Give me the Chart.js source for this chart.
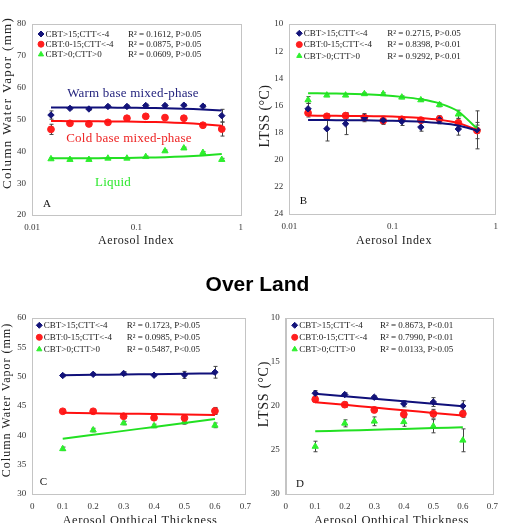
<!DOCTYPE html>
<html>
<head>
<meta charset="utf-8">
<script src="https://cdn.jsdelivr.net/npm/chart.js@4.4.0/dist/chart.umd.min.js"></script>
<style>
  html, body { margin: 0; padding: 0; background: #fff; }
  body { width: 505px; height: 523px; position: relative; overflow: hidden; }
  canvas { position: absolute; }
  #overLand {
    position: absolute; left: 0; width: 515px; top: 272px;
    text-align: center; line-height: 24px;
    font: bold 21px "Liberation Sans", Arial, sans-serif; color: #000;
  }
</style>
</head>
<body>
<canvas id="chartA" width="250" height="260" style="left:0;top:0"></canvas>
<canvas id="chartB" width="255" height="260" style="left:250px;top:0"></canvas>
<canvas id="chartC" width="258" height="280" style="left:0;top:260px"></canvas>
<canvas id="chartD" width="255" height="280" style="left:250px;top:260px"></canvas>
<div id="overLand">Over Land</div>
<script>
'use strict';

// ---- data ----
const seriesNames = ['CBT>15;CTT<-4', 'CBT:0-15;CTT<-4', 'CBT>0;CTT>0'];

// aerosol index bins (panels A, B)
const aiX = [0.0152, 0.0231, 0.0351, 0.0534, 0.0812, 0.123, 0.188, 0.285, 0.434, 0.658];

const cwvWarm = [51.4, 53.5, 53.3, 54.1, 54.1, 54.4, 54.4, 54.5, 54.2, 51.2];
const cwvWarmErr = [1.3, 0.4, 0.4, 0.4, 0.4, 0.4, 0.4, 0.4, 0.5, 2.0];
const cwvWarmFit = [53.8, 53.78, 53.77, 53.74, 53.69, 53.63, 53.53, 53.38, 53.15, 52.8];
const cwvCold = [46.9, 48.8, 48.6, 49.1, 50.4, 51.0, 50.6, 50.4, 48.2, 47.0];
const cwvColdErr = [1.6, 0.5, 0.5, 0.5, 0.5, 0.5, 0.5, 0.5, 0.6, 2.2];
const cwvColdFit = [49.5, 49.48, 49.45, 49.41, 49.35, 49.25, 49.1, 48.87, 48.52, 48.0];
const cwvLiq = [37.6, 37.4, 37.4, 37.8, 37.8, 38.3, 40.1, 41.0, 39.6, 37.4];
const cwvLiqErr = [0.3, 0.2, 0.2, 0.2, 0.2, 0.2, 0.3, 0.3, 0.3, 0.4];
const cwvLiqFit = [37.8, 37.82, 37.84, 37.88, 37.94, 38.03, 38.17, 38.39, 38.71, 39.2];

const ltssWarm = [16.25, 17.72, 17.35, 16.9, 17.1, 17.18, 17.6, 17.06, 17.74, 17.8];
const ltssWarmErr = [0.4, 0.9, 0.8, 0.3, 0.3, 0.3, 0.3, 0.3, 0.45, 1.4];
const ltssWarmFit = [17.08, 17.08, 17.09, 17.1, 17.12, 17.15, 17.2, 17.3, 17.48, 17.85];
const ltssCold = [16.55, 16.8, 16.75, 16.9, 17.12, 17.02, 17.08, 17.0, 17.28, 17.85];
const ltssColdErr = [0.3, 0.2, 0.2, 0.15, 0.15, 0.15, 0.15, 0.2, 0.3, 0.6];
const ltssColdFit = [16.75, 16.76, 16.77, 16.78, 16.8, 16.85, 16.92, 17.05, 17.3, 17.8];
const ltssLiq = [15.6, 15.25, 15.25, 15.15, 15.15, 15.4, 15.6, 15.95, 16.65, 17.75];
const ltssLiqErr = [0.25, 0.1, 0.1, 0.1, 0.1, 0.1, 0.1, 0.15, 0.3, 0.3];
const ltssLiqFit = [15.1, 15.12, 15.14, 15.18, 15.25, 15.37, 15.55, 15.85, 16.45, 17.7];

// aerosol optical thickness bins (panels C, D)
const aotX = [0.1, 0.2, 0.3, 0.4, 0.5, 0.6];

const cwvWarmAot = [50.2, 50.4, 50.55, 50.25, 50.3, 50.75];
const cwvWarmAotErr = [0.2, 0.2, 0.3, 0.2, 0.6, 1.0];
const cwvWarmAotFit = [50.25, 50.31, 50.37, 50.43, 50.49, 50.55];
const cwvColdAot = [44.1, 44.1, 43.25, 43.0, 42.95, 44.15];
const cwvColdAotErr = [0.3, 0.2, 0.3, 0.3, 0.3, 0.6];
const cwvColdAotFit = [43.85, 43.78, 43.7, 43.62, 43.55, 43.47];
const cwvLiqAot = [37.7, 40.9, 42.1, 41.6, 42.3, 41.7];
const cwvLiqAotErr = [0.3, 0.3, 0.3, 0.3, 0.4, 0.4];
const cwvLiqAotFit = [39.4, 40.08, 40.76, 41.44, 42.12, 42.8];

const ltssWarmAot = [18.55, 18.7, 19.0, 19.75, 19.55, 20.0];
const ltssWarmAotErr = [0.3, 0.2, 0.2, 0.35, 0.5, 0.6];
const ltssWarmAotFit = [18.6, 18.88, 19.17, 19.45, 19.74, 20.02];
const ltssColdAot = [19.25, 19.85, 20.45, 20.95, 20.88, 20.88];
const ltssColdAotErr = [0.3, 0.3, 0.3, 0.4, 0.5, 0.4];
const ltssColdAotFit = [19.57, 19.87, 20.18, 20.48, 20.79, 21.09];
const ltssLiqAot = [24.6, 21.97, 21.74, 21.8, 22.3, 23.9];
const ltssLiqAotErr = [0.6, 0.4, 0.5, 0.5, 0.75, 1.3];
const ltssLiqAotFit = [22.88, 22.79, 22.7, 22.6, 22.51, 22.42];

const rsqA = ['R² = 0.1612, P>0.05', 'R² = 0.0875, P>0.05', 'R² = 0.0609, P>0.05'];
const rsqB = ['R² = 0.2715, P>0.05', 'R² = 0.8398, P<0.01', 'R² = 0.9292, P<0.01'];
const rsqC = ['R² = 0.1723, P>0.05', 'R² = 0.0985, P>0.05', 'R² = 0.5487, P<0.05'];
const rsqD = ['R² = 0.8673, P<0.01', 'R² = 0.7990, P<0.01', 'R² = 0.0133, P>0.05'];

const logTicks = [0.01, 0.1, 1];

// ---- style ----
const SERIF = '"Liberation Serif", "Times New Roman", serif';
const BLUE = '#14147a';
const RED = '#ff1e1e';
const GREEN = '#2ef02e';
const FRAME = '#c4c4c4';
const markStyles = [
  {pointStyle: 'rectRot', radius: 3.2, color: BLUE, line: '#10107a'},
  {pointStyle: 'circle', radius: 3.4, color: RED, line: '#ff1010'},
  {pointStyle: 'triangle', radius: 3.6, color: GREEN, line: '#22e022'}
];

let setFont = function (ctx, size, spacing) {
  ctx.font = size + 'px ' + SERIF;
  ctx.letterSpacing = (spacing || 0) + 'px';
};

// error bars under the markers
let errorBars = {
  id: 'errorBars',
  beforeDatasetsDraw(chart) {
    const ctx = chart.ctx;
    const xs = chart.scales.x, ys = chart.scales.y;
    ctx.save();
    ctx.strokeStyle = '#444';
    ctx.lineWidth = 1;
    chart.data.datasets.forEach(ds => {
      if (!ds.errors) return;
      ds.data.forEach((p, i) => {
        const e = ds.errors[i];
        const px = Math.round(xs.getPixelForValue(p.x)) + 0.5;
        const y1 = ys.getPixelForValue(p.y - e);
        const y2 = ys.getPixelForValue(p.y + e);
        ctx.beginPath();
        ctx.moveTo(px, y1); ctx.lineTo(px, y2);
        ctx.moveTo(px - 2, y1); ctx.lineTo(px + 2, y1);
        ctx.moveTo(px - 2, y2); ctx.lineTo(px + 2, y2);
        ctx.stroke();
      });
    });
    ctx.restore();
  }
};

// frame, legend box, titles, annotations
let decor = {
  id: 'decor',
  afterDraw(chart, args, opts) {
    const ctx = chart.ctx;
    const a = chart.chartArea;
    ctx.save();
    ctx.strokeStyle = FRAME;
    ctx.lineWidth = 1;
    ctx.strokeRect(Math.round(a.left) + 0.5, Math.round(a.top) + 0.5,
      Math.round(a.right - a.left), Math.round(a.bottom - a.top));

    // legend with r-squared
    seriesNames.forEach((name, i) => {
      const y = a.top + opts.legendTop + i * opts.legendGap;
      const m = markStyles[i];
      ctx.fillStyle = m.color;
      ctx.strokeStyle = m.color;
      Chart.helpers.drawPoint(ctx, {pointStyle: m.pointStyle, radius: 3, rotation: 0, borderWidth: 1}, a.left + opts.legendX, y);
      setFont(ctx, 9, 0);
      ctx.fillStyle = '#222';
      ctx.textAlign = 'left';
      ctx.textBaseline = 'middle';
      ctx.fillText(name, a.left + opts.legendX + 4.5, y + 0.5);
      ctx.fillText(opts.rsq[i], a.left + opts.rsqX, y + 0.5);
    });

    // panel letter
    setFont(ctx, 11, 0);
    ctx.fillStyle = '#111';
    ctx.textAlign = 'center';
    ctx.fillText(opts.letter, a.left + opts.letterPos[0], a.bottom - opts.letterPos[1]);

    // axis titles
    const yt = opts.yTitle, xt = opts.xTitle;
    ctx.fillStyle = '#222';
    setFont(ctx, xt.size, xt.spacing);
    ctx.fillText(xt.text, xt.x, xt.y);
    ctx.translate(yt.x, yt.y);
    ctx.rotate(-Math.PI / 2);
    setFont(ctx, yt.size, yt.spacing);
    ctx.fillText(yt.text, 0, 0);
    ctx.setTransform(1, 0, 0, 1, 0, 0);

    (opts.notes || []).forEach(n => {
      setFont(ctx, 13, 0.2);
      ctx.fillStyle = n.color;
      ctx.fillText(n.text, n.x, n.y);
    });
    ctx.restore();
  }
};

let buildDatasets = function (xs, values, errors, fits) {
  let sets = [];
  values.forEach((vals, k) => {
    const m = markStyles[k];
    sets.push({
      type: 'scatter',
      data: xs.map((x, i) => ({x: x, y: vals[i]})),
      errors: errors[k],
      pointStyle: m.pointStyle,
      pointRadius: m.radius,
      backgroundColor: m.color,
      borderColor: m.color,
      borderWidth: 1,
      order: 2
    });
    sets.push({
      type: 'line',
      data: xs.map((x, i) => ({x: x, y: fits[k][i]})),
      borderColor: m.line,
      borderWidth: 2,
      pointRadius: 0,
      fill: false,
      tension: 0.2,
      order: 1
    });
  });
  return sets;
};

let makePanel = function (p) {
  const tickFont = {family: SERIF, size: 9};
  const xScale = {
    type: p.log ? 'logarithmic' : 'linear',
    min: p.xMin, max: p.xMax,
    grid: {display: false, drawTicks: false},
    border: {display: true, color: FRAME},
    ticks: {font: tickFont, color: '#333', padding: 7, maxRotation: 0, autoSkip: false},
    afterFit: s => { s.height = p.xHeight; }
  };
  if (p.log) {
    xScale.afterBuildTicks = s => { s.ticks = logTicks.map(v => ({value: v})); };
    xScale.ticks.callback = v => String(v);
  } else {
    xScale.ticks.stepSize = 0.1;
  }
  new Chart(document.getElementById(p.id), {
    data: {datasets: buildDatasets(p.xs, p.values, p.errors, p.fits)},
    options: {
      responsive: false,
      animation: false,
      events: [],
      layout: {padding: {top: p.top, right: p.right, left: 0, bottom: 0}},
      scales: {
        x: xScale,
        y: {
          type: 'linear',
          min: p.yMin, max: p.yMax, reverse: !!p.reverse,
          grid: {display: false, drawTicks: false},
          border: {display: true, color: FRAME},
          ticks: {font: tickFont, color: '#333', padding: 6, stepSize: p.yStep},
          afterFit: s => { s.width = p.yWidth; }
        }
      },
      plugins: {
        legend: {display: false},
        tooltip: {enabled: false},
        decor: p.decor
      }
    },
    plugins: [errorBars, decor]
  });
};

makePanel({
  id: 'chartA', xs: aiX, log: true, xMin: 0.01, xMax: 1,
  yMin: 20, yMax: 80, yStep: 10,
  values: [cwvWarm, cwvCold, cwvLiq],
  errors: [cwvWarmErr, cwvColdErr, cwvLiqErr],
  fits: [cwvWarmFit, cwvColdFit, cwvLiqFit],
  top: 24, right: 9, yWidth: 32, xHeight: 45,
  decor: {
    rsq: rsqA, letter: 'A', letterPos: [15, 11],
    legendX: 9, rsqX: 96, legendTop: 10, legendGap: 10.2,
    yTitle: {text: 'Column Water Vapor (mm)', x: 7.5, y: 103, size: 13, spacing: 1.3},
    xTitle: {text: 'Aerosol Index', x: 136, y: 240.5, size: 12, spacing: 0.6},
    notes: [
      {text: 'Warm base mixed-phase', x: 133, y: 93.5, color: '#24247e'},
      {text: 'Cold base mixed-phase', x: 129, y: 138.5, color: '#ee2424'},
      {text: 'Liquid', x: 113, y: 183, color: '#2ee82e'}
    ]
  }
});

makePanel({
  id: 'chartB', xs: aiX, log: true, xMin: 0.01, xMax: 1,
  yMin: 10, yMax: 24, yStep: 2, reverse: true,
  values: [ltssWarm, ltssCold, ltssLiq],
  errors: [ltssWarmErr, ltssColdErr, ltssLiqErr],
  fits: [ltssWarmFit, ltssColdFit, ltssLiqFit],
  top: 24, right: 7.7, yWidth: 39.3, xHeight: 46,
  decor: {
    rsq: rsqB, letter: 'B', letterPos: [14, 13],
    legendX: 10, rsqX: 98, legendTop: 9.3, legendGap: 11.3,
    yTitle: {text: 'LTSS (°C)', x: 15, y: 116, size: 14, spacing: 0.4},
    xTitle: {text: 'Aerosol Index', x: 144, y: 240.5, size: 12, spacing: 0.6}
  }
});

makePanel({
  id: 'chartC', xs: aotX, log: false, xMin: 0, xMax: 0.7,
  yMin: 30, yMax: 60, yStep: 5,
  values: [cwvWarmAot, cwvColdAot, cwvLiqAot],
  errors: [cwvWarmAotErr, cwvColdAotErr, cwvLiqAotErr],
  fits: [cwvWarmAotFit, cwvColdAotFit, cwvLiqAotFit],
  top: 58, right: 10.7, yWidth: 32.3, xHeight: 46,
  decor: {
    rsq: rsqC, letter: 'C', letterPos: [11, 12],
    legendX: 7, rsqX: 94.4, legendTop: 7.3, legendGap: 12,
    yTitle: {text: 'Column Water Vapor (mm)', x: 7, y: 140, size: 12, spacing: 1},
    xTitle: {text: 'Aerosol Opthical Thickness', x: 140, y: 261, size: 12.5, spacing: 0.6}
  }
});

makePanel({
  id: 'chartD', xs: aotX, log: false, xMin: 0, xMax: 0.7,
  yMin: 10, yMax: 30, yStep: 5, reverse: true,
  values: [ltssWarmAot, ltssColdAot, ltssLiqAot],
  errors: [ltssWarmAotErr, ltssColdAotErr, ltssLiqAotErr],
  fits: [ltssWarmAotFit, ltssColdAotFit, ltssLiqAotFit],
  top: 58, right: 7.7, yWidth: 35.7, xHeight: 46,
  decor: {
    rsq: rsqD, letter: 'D', letterPos: [14.3, 10],
    legendX: 9, rsqX: 94.3, legendTop: 7.3, legendGap: 12,
    yTitle: {text: 'LTSS (°C)', x: 14, y: 134, size: 14, spacing: 0.8},
    xTitle: {text: 'Aerosol Opthical Thickness', x: 141.5, y: 261, size: 12.5, spacing: 0.6}
  }
});
</script>
</body>
</html>
